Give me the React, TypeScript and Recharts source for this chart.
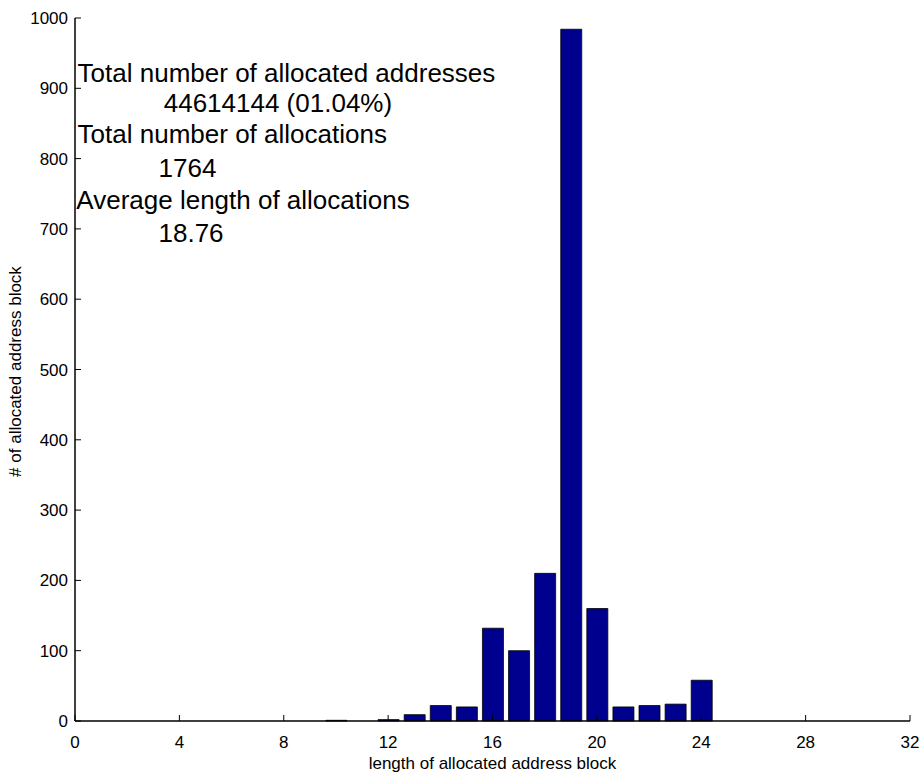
import React from "react";
import { BarChart, Bar, XAxis, YAxis, ReferenceDot } from "recharts";

const lengths = [10, 12, 13, 14, 15, 16, 17, 18, 19, 20, 21, 22, 23, 24];
const counts = [1, 2, 9, 22, 20, 132, 100, 210, 984, 160, 20, 22, 24, 58];
const xTicks = [0, 4, 8, 12, 16, 20, 24, 28, 32];
const yTicks = [0, 100, 200, 300, 400, 500, 600, 700, 800, 900, 1000];

const notes = [
  { x: 0.1, y: 909, text: "Total number of allocated addresses" },
  { x: 3.4, y: 866, text: "44614144 (01.04%)" },
  { x: 0.1, y: 822, text: "Total number of allocations" },
  { x: 3.2, y: 774, text: "1764" },
  { x: 0.05, y: 728, text: "Average length of allocations" },
  { x: 3.2, y: 682, text: "18.76" },
];

const data = lengths.map((l, i) => ({ len: l, count: counts[i] }));

const FONT = "'Liberation Sans', Arial, Helvetica, sans-serif";
const TICK_LEN = 6;

const BottomTick = (p: any) => (
  <g>
    <line x1={p.x} x2={p.x} y1={p.y} y2={p.y - TICK_LEN} stroke="#000" />
    <text x={p.x} y={p.y + 27} textAnchor="middle" fontSize={17} fontFamily={FONT} fill="#000">
      {p.payload.value}
    </text>
  </g>
);
const TopTick = (p: any) => (
  <line x1={p.x} x2={p.x} y1={p.y} y2={p.y + TICK_LEN} stroke="#000" />
);
const LeftTick = (p: any) => (
  <g>
    <line x1={p.x} x2={p.x + TICK_LEN} y1={p.y} y2={p.y} stroke="#000" />
    <text x={p.x - 7} y={p.y + 6} textAnchor="end" fontSize={17} fontFamily={FONT} fill="#000">
      {p.payload.value}
    </text>
  </g>
);
const RightTick = (p: any) => (
  <line x1={p.x} x2={p.x - TICK_LEN} y1={p.y} y2={p.y} stroke="#000" />
);

export default function App() {
  return (
    <div style={{ position: "absolute", left: 0, top: 0, width: 922, height: 775, background: "#fff" }}>
      <BarChart
        width={922}
        height={775}
        data={data}
        margin={{ top: 18, right: 12, bottom: 0, left: 0 }}
      >
        <XAxis
          xAxisId="b"
          dataKey="len"
          type="number"
          domain={[0, 32]}
          ticks={xTicks}
          interval={0}
          height={54}
          tickSize={0}
          tickMargin={0}
          tickLine={false}
          axisLine={{ stroke: "#000", strokeWidth: 1.5 }}
          tick={BottomTick}
          allowDecimals={false}
          label={{
            content: (props: any) => {
              const vb = props.viewBox;
              return (
                <text
                  x={vb.x + vb.width / 2}
                  y={vb.y + 48}
                  textAnchor="middle"
                  fontSize={17}
                  fontFamily={FONT}
                  fill="#000"
                >
                  length of allocated address block
                </text>
              );
            },
          }}
        />
        <XAxis
          xAxisId="t"
          dataKey="len"
          type="number"
          orientation="top"
          domain={[0, 32]}
          ticks={xTicks}
          interval={0}
          height={0}
          tickSize={0}
          tickMargin={0}
          tickLine={false}
          axisLine={{ stroke: "#000", strokeWidth: 1.5 }}
          tick={TopTick}
        />
        <YAxis
          yAxisId="l"
          type="number"
          domain={[0, 1000]}
          ticks={yTicks}
          interval={0}
          width={75}
          tickSize={0}
          tickMargin={0}
          tickLine={false}
          axisLine={{ stroke: "#000", strokeWidth: 1.5 }}
          tick={LeftTick}
          label={{
            content: (props: any) => {
              const vb = props.viewBox;
              const cx = 15;
              const cy = vb.y + vb.height / 2 + 2;
              return (
                <text
                  x={cx}
                  y={cy}
                  transform={`rotate(-90 ${cx} ${cy})`}
                  textAnchor="middle"
                  dominantBaseline="central"
                  fontSize={17}
                  fontFamily={FONT}
                  fill="#000"
                >
                  # of allocated address block
                </text>
              );
            },
          }}
        />
        <YAxis
          yAxisId="r"
          type="number"
          orientation="right"
          domain={[0, 1000]}
          ticks={yTicks}
          interval={0}
          width={0}
          tickSize={0}
          tickMargin={0}
          tickLine={false}
          axisLine={{ stroke: "#000", strokeWidth: 1.5 }}
          tick={RightTick}
        />
        <Bar
          xAxisId="b"
          yAxisId="l"
          dataKey="count"
          barSize={21}
          fill="#00008f"
          stroke="#000"
          strokeWidth={0.8}
          isAnimationActive={false}
        />
        {notes.map((n, i) => (
          <ReferenceDot
            key={i}
            xAxisId="b"
            yAxisId="l"
            x={n.x}
            y={n.y}
            r={0}
            ifOverflow="visible"
            shape={(p: any) => (
              <text x={p.cx} y={p.cy} fontSize={26} fontFamily={FONT} fill="#000">
                {n.text}
              </text>
            )}
          />
        ))}
      </BarChart>
    </div>
  );
}
